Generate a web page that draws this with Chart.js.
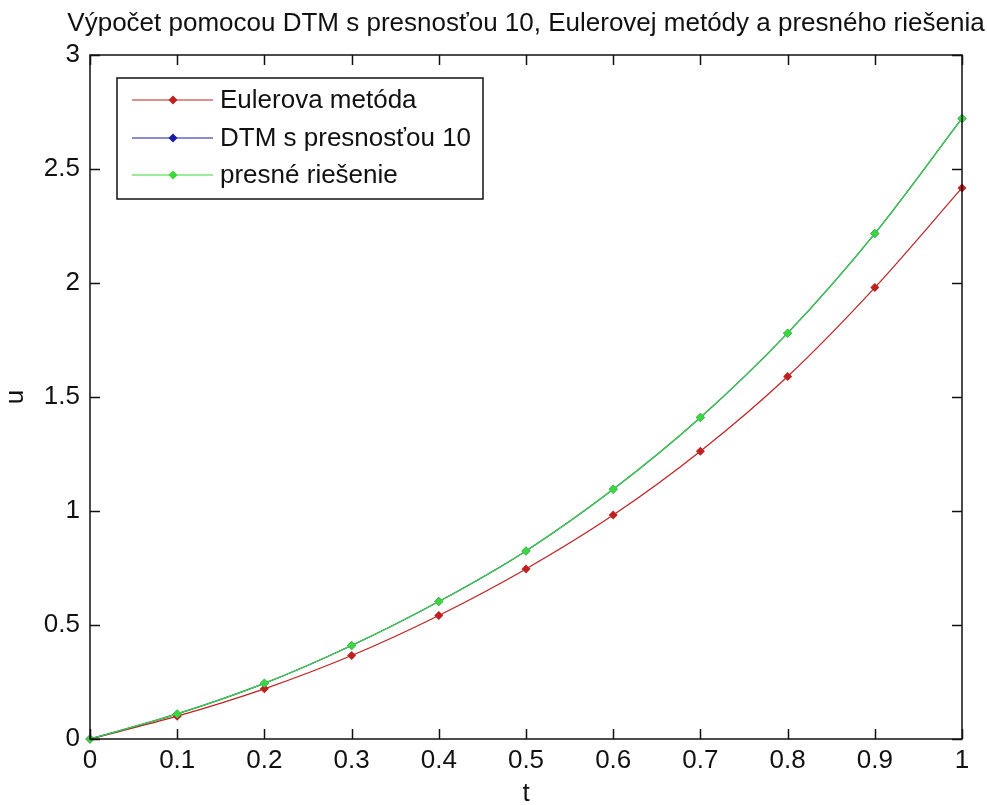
<!DOCTYPE html>
<html><head><meta charset="utf-8">
<script src="https://cdn.jsdelivr.net/npm/chart.js@4/dist/chart.umd.min.js"></script>
<style>html,body{margin:0;padding:0;background:#fff;}#wrap{width:987px;height:805px;}</style>
</head><body><div id="wrap"><canvas id="c" width="987" height="805"></canvas></div>
<script>
const tValues = [0, 0.1, 0.2, 0.3, 0.4, 0.5, 0.6, 0.7, 0.8, 0.9, 1];
const eulerValues = [0, 0.10, 0.22, 0.366, 0.542, 0.746, 0.982, 1.262, 1.59, 1.98, 2.417];
const dtmValues = [0, 0.11, 0.244, 0.41, 0.603, 0.825, 1.095, 1.41, 1.78, 2.217, 2.722];
const exactValues = [0, 0.11, 0.244, 0.41, 0.603, 0.825, 1.095, 1.41, 1.78, 2.217, 2.722];
const seriesLabels = ['Eulerova metóda', 'DTM s presnosťou 10', 'presné riešenie'];
const xTickValues = [0, 0.1, 0.2, 0.3, 0.4, 0.5, 0.6, 0.7, 0.8, 0.9, 1];
const yTickValues = [0, 0.5, 1, 1.5, 2, 2.5, 3];
const titleText = 'Výpočet pomocou DTM s presnosťou 10, Eulerovej metódy a presného riešenia';
const xTitle = 't';
const yTitle = 'u';

const FONT = "'Liberation Sans', Arial, sans-serif";
const colors = ['#c02020', '#1a1aa8', '#3ad83a'];

function pts(vals){ return tValues.map((t,i)=>({x:t, y:vals[i]})); }

const axesBox = {
  id: 'axesBox',
  afterDatasetsDraw(chart){
    const {ctx, chartArea:a, scales:{x, y}} = chart;
    ctx.save();
    ctx.strokeStyle = '#111'; ctx.lineWidth = 1.5;
    ctx.strokeRect(a.left, a.top, a.right - a.left, a.bottom - a.top);
    const L = 10;
    ctx.beginPath();
    x.ticks.forEach(t => {
      const px = Math.round(x.getPixelForValue(t.value)) + 0.5;
      ctx.moveTo(px, a.bottom); ctx.lineTo(px, a.bottom - L);
      ctx.moveTo(px, a.top); ctx.lineTo(px, a.top + L);
    });
    y.ticks.forEach(t => {
      const py = Math.round(y.getPixelForValue(t.value)) + 0.5;
      ctx.moveTo(a.left, py); ctx.lineTo(a.left + L, py);
      ctx.moveTo(a.right, py); ctx.lineTo(a.right - L, py);
    });
    ctx.stroke();
    ctx.restore();
  }
};

const axesTitle = {
  id: 'axesTitle',
  afterDraw(chart){
    const {ctx, chartArea:a} = chart;
    ctx.save();
    ctx.font = '26px ' + FONT;
    ctx.fillStyle = '#111';
    ctx.textAlign = 'center';
    ctx.textBaseline = 'middle';
    ctx.fillText(titleText, (a.left + a.right) / 2, 24);
    ctx.restore();
  }
};

const boxLegend = {
  id: 'boxLegend',
  afterDraw(chart){
    const {ctx, chartArea:a} = chart;
    const bx = a.left + 27, by = a.top + 23, bw = 366, bh = 121;
    ctx.save();
    ctx.fillStyle = '#fff';
    ctx.fillRect(bx, by, bw, bh);
    ctx.strokeStyle = '#111'; ctx.lineWidth = 1.5;
    ctx.strokeRect(bx, by, bw, bh);
    const rows = [22, 60, 97];
    ctx.font = '26px ' + FONT;
    ctx.textBaseline = 'middle';
    chart.data.datasets.forEach((ds, i) => {
      const yy = by + rows[i];
      ctx.strokeStyle = ds.borderColor; ctx.lineWidth = 1.2;
      ctx.beginPath(); ctx.moveTo(bx + 15, yy); ctx.lineTo(bx + 96, yy); ctx.stroke();
      ctx.fillStyle = ds.borderColor;
      ctx.beginPath();
      const mx = bx + 56, r = 4.5;
      ctx.moveTo(mx, yy - r); ctx.lineTo(mx + r, yy); ctx.lineTo(mx, yy + r); ctx.lineTo(mx - r, yy); ctx.closePath();
      ctx.fill();
      ctx.fillStyle = '#111';
      ctx.fillText(ds.label, bx + 103, yy + 1);
    });
    ctx.restore();
  }
};

const datasets = [eulerValues, dtmValues, exactValues].map((vals, i) => ({
  label: seriesLabels[i],
  data: pts(vals),
  borderColor: colors[i],
  backgroundColor: colors[i],
  borderWidth: 1.2,
  pointStyle: 'rectRot',
  pointRadius: 4.5,
  pointBorderWidth: 0,
  cubicInterpolationMode: 'monotone',
  clip: false,
  order: 2 - i
}));

new Chart(document.getElementById('c'), {
  type: 'line',
  data: { datasets },
  options: {
    responsive: false,
    animation: false,
    devicePixelRatio: 1,
    layout: { padding: { top: 55, right: 25, bottom: 0, left: 0 } },
    plugins: {
      legend: { display: false },
      tooltip: { enabled: false },
      title: { display: false }
    },
    scales: {
      x: {
        type: 'linear', min: 0, max: 1,
        afterBuildTicks: s => { s.ticks = xTickValues.map(v => ({value: v})); },
        afterFit: s => { s.height = 66; },
        grid: { display: false, drawTicks: false },
        border: { display: false },
        ticks: { padding: 6, color: '#111', font: { family: FONT, size: 26 }, callback: v => String(v), maxRotation: 0, autoSkip: false },
        title: { display: true, text: xTitle, color: '#111', font: { family: FONT, size: 26 }, padding: { top: 0, bottom: -4 } }
      },
      y: {
        type: 'linear', min: 0, max: 3,
        afterBuildTicks: s => { s.ticks = yTickValues.map(v => ({value: v})); },
        afterFit: s => { s.width = 90; },
        grid: { display: false, drawTicks: false },
        border: { display: false },
        ticks: { padding: 10, color: '#111', font: { family: FONT, size: 26 }, callback: v => String(v), autoSkip: false },
        title: { display: true, text: yTitle, color: '#111', font: { family: FONT, size: 26 }, padding: 0 }
      }
    }
  },
  plugins: [axesBox, boxLegend, axesTitle]
});
</script></body></html>
